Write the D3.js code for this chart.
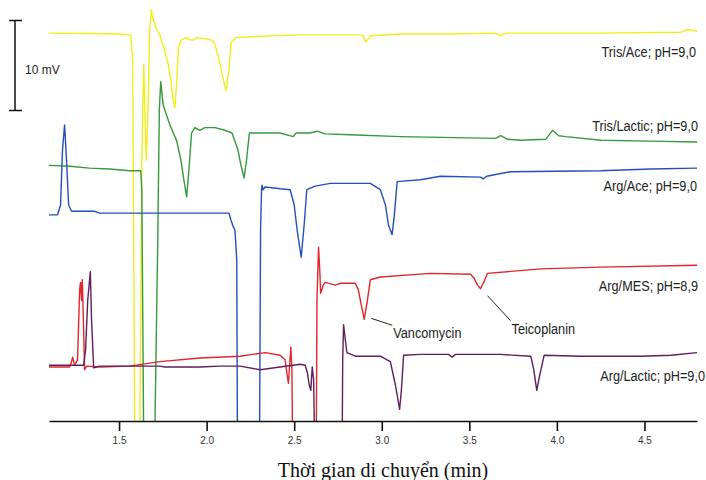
<!DOCTYPE html>
<html>
<head>
<meta charset="utf-8">
<script src="https://cdn.jsdelivr.net/npm/d3@7"></script>
<style>
  body { margin: 0; background: #fff; }
  svg { display: block; }
</style>
</head>
<body>
<script>
// Electropherograms, [time (min), signal (mV)], traces already offset
var trisAce = [
  [1.10,43.1],[1.33,43.05],[1.50,43.0],[1.567,42.9],[1.578,40.0],[1.590,-3],
  [1.618,-3],[1.630,29.0],[1.641,39.6],[1.655,29.0],[1.664,33.4],[1.675,43.4],[1.684,45.7],
  [1.693,44.8],[1.710,43.7],[1.733,42.9],[1.756,41.4],[1.778,39.9],[1.796,37.9],[1.807,35.9],
  [1.819,34.8],[1.830,37.9],[1.839,41.4],[1.853,42.3],[1.882,42.6],[1.916,42.3],[1.944,42.6],
  [1.979,42.5],[2.019,42.4],[2.042,42.1],[2.065,40.7],[2.088,38.6],[2.110,36.7],[2.128,39.0],
  [2.139,42.0],[2.168,42.6],[2.248,42.7],[2.534,42.9],[2.89,42.9],[2.91,42.1],[2.935,42.8],
  [3.106,43.0],[3.393,43.0],[3.65,43.1],[3.679,42.8],[3.708,43.1],[4.251,43.1],[4.709,43.2],
  [4.748,43.5],[4.80,43.3]
];
var trisLactic = [
  [1.10,28.4],[1.218,28.3],[1.332,28.1],[1.446,28.0],[1.561,27.8],[1.624,27.8],[1.630,25.7],
  [1.641,-3],[1.703,-3],[1.721,20.1],[1.730,34.6],[1.738,37.7],[1.752,35.1],[1.790,32.9],
  [1.828,31.2],[1.853,29.0],[1.870,26.8],[1.886,24.9],[1.899,27.9],[1.914,32.0],[1.933,32.6],
  [1.962,32.3],[1.990,32.6],[2.048,32.6],[2.105,32.3],[2.145,32.0],[2.179,30.1],[2.196,28.4],
  [2.214,27.0],[2.228,29.0],[2.244,32.0],[2.305,32.0],[2.420,32.0],[2.494,31.6],[2.511,32.0],
  [2.591,32.0],[2.630,32.2],[2.677,31.9],[2.820,31.8],[3.106,31.6],[3.650,31.4],[3.679,31.7],
  [3.719,31.3],[3.793,31.2],[3.936,31.3],[3.975,32.3],[4.011,31.7],[4.051,31.6],[4.251,31.2],
  [4.537,31.1],[4.80,31.0]
];
var argAce = [
  [1.10,22.9],[1.149,22.9],[1.166,24.0],[1.177,30.1],[1.189,32.9],[1.200,29.0],[1.212,24.0],
  [1.229,23.3],[1.361,23.3],[1.389,23.1],[1.675,23.1],[1.962,23.1],[2.128,23.1],[2.139,22.3],
  [2.152,21.6],[2.162,21.2],[2.172,17.9],[2.176,-3],[2.302,-3],[2.308,21.2],[2.314,25.9],
  [2.317,26.2],[2.322,25.7],[2.334,26.0],[2.420,25.8],[2.477,25.7],[2.500,24.0],[2.517,21.2],
  [2.540,18.2],[2.557,21.8],[2.572,25.7],[2.620,26.1],[2.706,26.4],[2.935,26.4],[2.992,25.7],
  [3.021,24.0],[3.038,21.8],[3.059,20.7],[3.072,22.9],[3.088,26.6],[3.221,26.8],[3.335,27.2],
  [3.564,27.1],[3.580,26.9],[3.599,27.2],[3.736,27.7],[4.251,27.8],[4.537,28.0],[4.80,28.1]
];
var argMes = [
  [1.10,6.0],[1.218,6.0],[1.229,6.6],[1.235,7.1],[1.246,6.2],[1.263,6.8],[1.275,14.6],
  [1.280,15.4],[1.286,13.4],[1.290,15.7],[1.298,10.1],[1.303,5.7],[1.315,6.1],[1.389,6.0],
  [1.561,6.1],[1.733,6.6],[1.962,7.0],[2.191,7.2],[2.334,7.6],[2.420,7.3],[2.448,6.8],
  [2.460,5.1],[2.467,4.2],[2.474,6.2],[2.481,8.2],[2.487,5.7],[2.491,-3],[2.626,-3],
  [2.630,13.4],[2.639,19.3],[2.646,16.8],[2.651,14.2],[2.666,15.1],[2.677,15.4],[2.734,15.1],
  [2.763,15.3],[2.849,15.3],[2.866,14.6],[2.883,12.9],[2.900,11.3],[2.918,13.4],[2.935,15.7],
  [2.992,16.0],[3.278,16.4],[3.507,16.3],[3.526,15.9],[3.547,15.1],[3.564,14.7],[3.582,15.4],
  [3.603,16.4],[3.908,16.9],[4.251,17.1],[4.80,17.3]
];
var argLactic = [
  [1.10,6.2],[1.298,6.2],[1.309,7.9],[1.321,13.4],[1.336,16.6],[1.343,11.2],[1.355,5.9],
  [1.389,6.1],[1.733,6.1],[1.761,6.0],[1.962,6.0],[2.076,6.1],[2.191,6.1],[2.305,5.7],
  [2.420,6.0],[2.534,6.3],[2.563,6.2],[2.576,5.3],[2.586,4.0],[2.595,3.4],[2.603,6.0],
  [2.611,4.6],[2.617,-3],[2.774,-3],[2.777,6.8],[2.782,10.7],[2.792,9.0],[2.801,7.6],
  [2.849,7.2],[2.992,7.2],[3.049,6.6],[3.078,4.0],[3.102,1.3],[3.112,3.4],[3.125,7.3],
  [3.221,7.4],[3.381,7.4],[3.402,7.1],[3.421,7.4],[3.679,7.4],[3.851,7.2],[3.868,5.7],
  [3.885,3.4],[3.902,5.1],[3.927,7.3],[4.137,7.2],[4.480,7.2],[4.652,7.3],[4.80,7.6]
];

var seriesNames = ["Tris/Ace; pH=9,0", "Tris/Lactic; pH=9,0", "Arg/Ace; pH=9,0", "Arg/MES; pH=8,9", "Arg/Lactic; pH=9,0"];
var seriesData = [trisAce, trisLactic, argAce, argMes, argLactic];
var seriesColors = ["#f0ef1a", "#36993a", "#2350b8", "#e2262c", "#5e1f5c"];

var xTicks = [1.5, 2.0, 2.5, 3.0, 3.5, 4.0, 4.5];
var xTitle = "Thời gian di chuyển (min)";
var scaleBarMv = 10;

// peaks marked on Arg/MES trace
var peakNames = ["Vancomycin", "Teicoplanin"];
var peakTimes = [2.900, 3.564];

// layout: label baseline (mV) and right-edge nudge (px) per trace
var labelLevels = [40.5, 32.2, 25.6, 14.4, 4.4];
var labelNudge = [0, 2, 1, 2, 9];

var W = 706, H = 480;
var margin = {left: 49, right: 9, top: 0, bottom: 59};
var axisY = H - margin.bottom; // 421

var svg = d3.select("body").append("svg")
    .attr("width", W)
    .attr("height", H);

var xScale = d3.scaleLinear()
    .domain([1.1, 4.8])
    .range([margin.left, W - margin.right]);

// 10 mV = 90 px
var yScale = d3.scaleLinear()
    .domain([0, 10])
    .range([axisY, axisY - 90]);

svg.append("clipPath")
    .attr("id", "plotClip")
  .append("rect")
    .attr("x", margin.left)
    .attr("y", 0)
    .attr("width", W - margin.left - margin.right)
    .attr("height", axisY);

var line = d3.line()
    .x(d => xScale(d[0]))
    .y(d => yScale(d[1]));

svg.append("g")
    .attr("clip-path", "url(#plotClip)")
  .selectAll("path")
  .data(seriesData)
  .enter()
  .append("path")
    .attr("d", line)
    .attr("fill", "none")
    .attr("stroke", (d, i) => seriesColors[i])
    .attr("stroke-width", 1.4)
    .attr("stroke-linejoin", "round");

// series labels (narrow sans)
svg.selectAll(".slabel")
    .data(seriesNames)
    .enter()
    .append("text")
    .attr("class", "slabel")
    .attr("transform", (d, i) => `translate(${xScale(4.8) - 1 + labelNudge[i]},${yScale(labelLevels[i])}) scale(0.82,1)`)
    .attr("text-anchor", "end")
    .style("font-family", "'Liberation Sans', Arial, sans-serif")
    .style("font-size", "15.5px")
    .attr("fill", "#222")
    .text(d => d);

// peak annotations with leader lines
var peakGroup = svg.append("g");
peakNames.forEach(function(name, i) {
  var t = peakTimes[i];
  var pt = argMes.reduce((a, b) => Math.abs(b[0] - t) < Math.abs(a[0] - t) ? b : a);
  var px = xScale(pt[0]), py = yScale(pt[1]);
  var lx = i === 0 ? px + 29 : px + 31;
  var ly = i === 0 ? py + 8 : py + 34;
  peakGroup.append("line")
      .attr("x1", px + 7)
      .attr("y1", py + (i === 0 ? -1 : 7))
      .attr("x2", lx - 1)
      .attr("y2", ly - 2)
      .attr("stroke", "#222")
      .attr("stroke-width", 1);
  peakGroup.append("text")
      .attr("transform", `translate(${lx},${ly + 11}) scale(0.82,1)`)
      .style("font-family", "'Liberation Sans', Arial, sans-serif")
      .style("font-size", "15.5px")
      .attr("fill", "#222")
      .text(name);
});

// x axis
var xAxis = d3.axisBottom(xScale)
    .tickValues(xTicks)
    .tickFormat(d3.format(".1f"))
    .tickSizeInner(10)
    .tickSizeOuter(0)
    .tickPadding(6);

var gx = svg.append("g")
    .attr("transform", `translate(0,${axisY})`)
    .call(xAxis);
gx.select(".domain").attr("stroke", "#111").attr("stroke-width", 1.6);
gx.selectAll(".tick line").attr("stroke", "#111").attr("stroke-width", 1.6);
gx.selectAll(".tick text")
    .style("font-family", "'Liberation Sans', Arial, sans-serif")
    .style("font-size", "10px")
    .attr("fill", "#333");

svg.append("text")
    .attr("x", 383)
    .attr("y", 477)
    .attr("text-anchor", "middle")
    .style("font-family", "'Liberation Serif', 'Times New Roman', serif")
    .style("font-size", "20px")
    .attr("fill", "#111")
    .text(xTitle);

// 10 mV scale bar
var barBase = 34.5;
var bar = svg.append("g").attr("stroke", "#111").attr("stroke-width", 1.5);
bar.append("line")
    .attr("x1", 15).attr("x2", 15)
    .attr("y1", yScale(barBase)).attr("y2", yScale(barBase + scaleBarMv));
[barBase, barBase + scaleBarMv].forEach(function(v) {
  bar.append("line")
      .attr("x1", 9).attr("x2", 22)
      .attr("y1", yScale(v)).attr("y2", yScale(v));
});
svg.append("text")
    .attr("x", 25)
    .attr("y", yScale(barBase + scaleBarMv / 2) + 8)
    .style("font-family", "'Liberation Sans', Arial, sans-serif")
    .style("font-size", "12px")
    .attr("fill", "#222")
    .text(scaleBarMv + " mV");
</script>
</body>
</html>
